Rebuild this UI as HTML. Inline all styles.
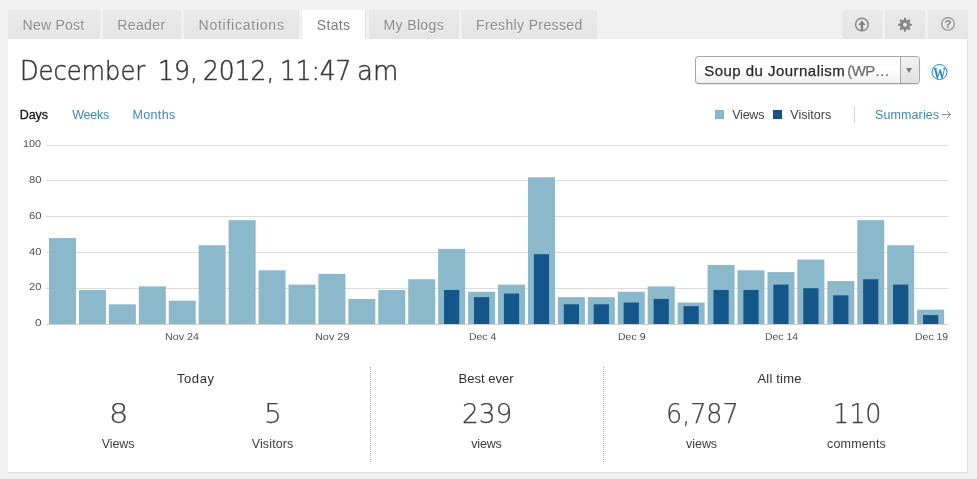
<!DOCTYPE html>
<html lang="en">
<head>
<meta charset="utf-8">
<title>Stats</title>
<style>
html,body{margin:0;padding:0;}
body{width:977px;height:479px;overflow:hidden;background:#f1f1f1;font-family:"Liberation Sans",sans-serif;color:#444;position:relative;}
.abs{position:absolute;white-space:nowrap;}
.x{position:absolute;white-space:nowrap;margin:0;padding:0;}
.tab{position:absolute;top:10px;height:29px;background:linear-gradient(#eaeaea,#e4e4e4);}
.tab.on{background:#fff;}
#panel{position:absolute;left:8px;top:39px;width:959px;height:433px;background:#fff;border-bottom:1px solid #dfdfdf;border-right:1px solid #e2e2e2;}
.sep{position:absolute;top:367px;height:95px;width:0;border-left:1px dotted #a8a8a8;}
</style>
</head>
<body>
<!-- tabs -->
<div class="tab" style="left:8px;width:92px;"></div>
<div class="tab" style="left:103px;width:78px;"></div>
<div class="tab" style="left:184px;width:115px;"></div>
<div class="tab on" style="left:302px;width:63px;border-right:1px solid #e0e0e0;"></div>
<div class="tab" style="left:369px;width:90px;"></div>
<div class="tab" style="left:462px;width:135px;"></div>
<div class="tab" style="left:842px;width:40px;"></div>
<div class="tab" style="left:885px;width:40px;"></div>
<div class="tab" style="left:928px;width:40px;"></div>

<!-- tab icons -->
<svg class="abs" style="left:842px;top:10px;" width="126" height="29" viewBox="842 10 126 29">
  <!-- upload -->
  <circle cx="861.9" cy="24.5" r="6.3" fill="none" stroke="#878787" stroke-width="1.4"/>
  <path d="M861.9 20.3 L865.6 24.9 L863.1 24.9 L863.1 30.2 L860.7 30.2 L860.7 24.9 L858.2 24.9 Z" fill="#858585"/>
  <!-- gear -->
  <path d="M900.55 24.80a4.45 4.45 0 1 0 8.9 0a4.45 4.45 0 1 0 -8.9 0Z M902.95 24.80a2.05 2.05 0 1 1 4.1 0a2.05 2.05 0 1 1 -4.1 0Z" fill="#868686" fill-rule="evenodd"/>
  <path d="M908.90 23.05 L911.95 24.05 L911.95 25.55 L908.90 26.55Z M909.00 26.32 L910.44 29.18 L909.38 30.24 L906.52 28.80Z M906.75 28.70 L905.75 31.75 L904.25 31.75 L903.25 28.70Z M903.48 28.80 L900.62 30.24 L899.56 29.18 L901.00 26.32Z M901.10 26.55 L898.05 25.55 L898.05 24.05 L901.10 23.05Z M901.00 23.28 L899.56 20.42 L900.62 19.36 L903.48 20.80Z M903.25 20.90 L904.25 17.85 L905.75 17.85 L906.75 20.90Z M906.52 20.80 L909.38 19.36 L910.44 20.42 L909.00 23.28Z" fill="#868686"/>
  <!-- help -->
  <circle cx="948" cy="23.9" r="6.35" fill="none" stroke="#8c8c8c" stroke-width="1.2"/>
  <text x="948" y="28" text-anchor="middle" font-family="Liberation Sans, sans-serif" font-size="11.5" font-weight="bold" fill="#858585">?</text>
</svg>

<div id="panel"></div>

<!-- select -->
<div class="abs" style="left:695px;top:56px;width:223px;height:26px;border:1px solid #a8a8a8;border-bottom-color:#9a9a9a;border-radius:4px;background:linear-gradient(#ffffff 45%,#f2f2f2);box-shadow:0 1px 1px rgba(0,0,0,0.08);"></div>
<div class="abs" style="left:900px;top:57px;width:18px;height:26px;border-left:1px solid #a6a6a6;background:linear-gradient(#f3f3f3,#e0e0e0);border-radius:0 3px 3px 0;"></div>
<div class="abs" style="left:905.6px;top:67.9px;width:0;height:0;border-left:3.9px solid transparent;border-right:3.9px solid transparent;border-top:5.5px solid #7d7d7d;"></div>

<!-- wp logo -->
<svg class="abs" style="left:930px;top:62px;" width="20" height="20" viewBox="930 62 20 20">
  <circle cx="939.5" cy="72" r="7.5" fill="#fff" stroke="#2489c2" stroke-width="1"/>
  <text transform="translate(939.6 78.5) scale(0.74 1)" x="0" y="0" text-anchor="middle" font-family="Liberation Serif, serif" font-weight="bold" font-size="17" fill="#2489c2">W</text>
</svg>

<!-- legend -->
<div class="abs" style="left:715px;top:110px;width:7px;height:7px;background:#8cb8cc;border:1px solid #82b1c8;"></div>
<div class="abs" style="left:773px;top:110px;width:7px;height:7px;background:#14568a;border:1px solid #124f80;"></div>
<div class="abs" style="left:854px;top:106px;width:0;height:17px;border-left:1px solid #d6d6d6;"></div>
<svg class="abs" style="left:940px;top:109px;" width="12" height="11" viewBox="0 0 12 11">
  <path d="M1.6 5.5 H10.4 M7 2 L10.6 5.5 L7 9" fill="none" stroke="#8f8f8f" stroke-width="1"/>
</svg>

<!-- chart -->
<svg id="chart" class="abs" style="left:0;top:135px;" width="977" height="215" viewBox="0 135 977 215">
<rect x="46" y="324" width="902" height="1" fill="#cfcfcf"/>
<rect x="46" y="288" width="902" height="1" fill="#dcdcdc"/>
<rect x="46" y="252" width="902" height="1" fill="#dcdcdc"/>
<rect x="46" y="216" width="902" height="1" fill="#dcdcdc"/>
<rect x="46" y="180" width="902" height="1" fill="#dcdcdc"/>
<rect x="46" y="145" width="902" height="1" fill="#dcdcdc"/>
<rect x="49.00" y="238.08" width="27.0" height="85.92" fill="#8cb8cc"/>
<rect x="78.94" y="289.99" width="27.0" height="34.01" fill="#8cb8cc"/>
<rect x="108.87" y="304.31" width="27.0" height="19.69" fill="#8cb8cc"/>
<rect x="138.81" y="286.41" width="27.0" height="37.59" fill="#8cb8cc"/>
<rect x="168.74" y="300.73" width="27.0" height="23.27" fill="#8cb8cc"/>
<rect x="198.67" y="245.24" width="27.0" height="78.76" fill="#8cb8cc"/>
<rect x="228.61" y="220.18" width="27.0" height="103.82" fill="#8cb8cc"/>
<rect x="258.54" y="270.30" width="27.0" height="53.70" fill="#8cb8cc"/>
<rect x="288.48" y="284.62" width="27.0" height="39.38" fill="#8cb8cc"/>
<rect x="318.41" y="273.88" width="27.0" height="50.12" fill="#8cb8cc"/>
<rect x="348.35" y="298.94" width="27.0" height="25.06" fill="#8cb8cc"/>
<rect x="378.28" y="289.99" width="27.0" height="34.01" fill="#8cb8cc"/>
<rect x="408.22" y="279.25" width="27.0" height="44.75" fill="#8cb8cc"/>
<rect x="438.15" y="248.82" width="27.0" height="75.18" fill="#8cb8cc"/>
<rect x="468.09" y="291.78" width="27.0" height="32.22" fill="#8cb8cc"/>
<rect x="498.02" y="284.62" width="27.0" height="39.38" fill="#8cb8cc"/>
<rect x="527.96" y="177.22" width="27.0" height="146.78" fill="#8cb8cc"/>
<rect x="557.89" y="297.15" width="27.0" height="26.85" fill="#8cb8cc"/>
<rect x="587.83" y="297.15" width="27.0" height="26.85" fill="#8cb8cc"/>
<rect x="617.76" y="291.78" width="27.0" height="32.22" fill="#8cb8cc"/>
<rect x="647.70" y="286.41" width="27.0" height="37.59" fill="#8cb8cc"/>
<rect x="677.63" y="302.52" width="27.0" height="21.48" fill="#8cb8cc"/>
<rect x="707.57" y="264.93" width="27.0" height="59.07" fill="#8cb8cc"/>
<rect x="737.50" y="270.30" width="27.0" height="53.70" fill="#8cb8cc"/>
<rect x="767.44" y="272.09" width="27.0" height="51.91" fill="#8cb8cc"/>
<rect x="797.38" y="259.56" width="27.0" height="64.44" fill="#8cb8cc"/>
<rect x="827.31" y="281.04" width="27.0" height="42.96" fill="#8cb8cc"/>
<rect x="857.25" y="220.18" width="27.0" height="103.82" fill="#8cb8cc"/>
<rect x="887.18" y="245.24" width="27.0" height="78.76" fill="#8cb8cc"/>
<rect x="917.12" y="309.68" width="27.0" height="14.32" fill="#8cb8cc"/>
<rect x="444.05" y="289.99" width="15.2" height="34.01" fill="#14568a"/>
<rect x="473.99" y="297.15" width="15.2" height="26.85" fill="#14568a"/>
<rect x="503.92" y="293.57" width="15.2" height="30.43" fill="#14568a"/>
<rect x="533.86" y="254.19" width="15.2" height="69.81" fill="#14568a"/>
<rect x="563.79" y="304.31" width="15.2" height="19.69" fill="#14568a"/>
<rect x="593.73" y="304.31" width="15.2" height="19.69" fill="#14568a"/>
<rect x="623.66" y="302.52" width="15.2" height="21.48" fill="#14568a"/>
<rect x="653.60" y="298.94" width="15.2" height="25.06" fill="#14568a"/>
<rect x="683.53" y="306.10" width="15.2" height="17.90" fill="#14568a"/>
<rect x="713.47" y="289.99" width="15.2" height="34.01" fill="#14568a"/>
<rect x="743.40" y="289.99" width="15.2" height="34.01" fill="#14568a"/>
<rect x="773.34" y="284.62" width="15.2" height="39.38" fill="#14568a"/>
<rect x="803.27" y="288.20" width="15.2" height="35.80" fill="#14568a"/>
<rect x="833.21" y="295.36" width="15.2" height="28.64" fill="#14568a"/>
<rect x="863.14" y="279.25" width="15.2" height="44.75" fill="#14568a"/>
<rect x="893.08" y="284.62" width="15.2" height="39.38" fill="#14568a"/>
<rect x="923.01" y="315.05" width="15.2" height="8.95" fill="#14568a"/>
</svg>

<!-- bottom stats -->
<div class="sep" style="left:370px;"></div>
<div class="sep" style="left:603px;"></div>

<div class="x" id="t1" style="left:22.55px;top:18.00px;font-size:14px;line-height:14px;color:#8a8a8a;letter-spacing:0.257px;text-shadow:0 1px 0 #fff;">New Post</div>
<div class="x" id="t2" style="left:117.20px;top:18.00px;font-size:14px;line-height:14px;color:#8a8a8a;letter-spacing:0.396px;text-shadow:0 1px 0 #fff;">Reader</div>
<div class="x" id="t3" style="left:198.55px;top:18.00px;font-size:14px;line-height:14px;color:#8a8a8a;letter-spacing:0.757px;text-shadow:0 1px 0 #fff;">Notifications</div>
<div class="x" id="t4" style="left:316.75px;top:18.00px;font-size:14px;line-height:14px;color:#7b7b7b;letter-spacing:0.338px;">Stats</div>
<div class="x" id="t5" style="left:383.60px;top:18.00px;font-size:14px;line-height:14px;color:#8a8a8a;letter-spacing:0.354px;text-shadow:0 1px 0 #fff;">My Blogs</div>
<div class="x" id="t6" style="left:476.00px;top:18.00px;font-size:14px;line-height:14px;color:#8a8a8a;letter-spacing:0.360px;text-shadow:0 1px 0 #fff;">Freshly Pressed</div>
<div class="x" id="ti1" style="left:19.50px;top:57.00px;font-size:27.4px;line-height:27.4px;color:#383838;transform:scaleX(0.8811);transform-origin:0 0;font-family:'DejaVu Sans Light','DejaVu Sans','Liberation Sans',sans-serif;font-weight:200;-webkit-text-stroke:0.5px #383838;">December</div>
<div class="x" id="ti2" style="left:157.60px;top:57.00px;font-size:27.4px;line-height:27.4px;color:#383838;transform:scaleX(0.9173);transform-origin:0 0;font-family:'DejaVu Sans Light','DejaVu Sans','Liberation Sans',sans-serif;font-weight:200;-webkit-text-stroke:0.5px #383838;">19,</div>
<div class="x" id="ti3" style="left:202.95px;top:57.00px;font-size:27.4px;line-height:27.4px;color:#383838;transform:scaleX(0.9106);transform-origin:0 0;font-family:'DejaVu Sans Light','DejaVu Sans','Liberation Sans',sans-serif;font-weight:200;-webkit-text-stroke:0.5px #383838;">2012,</div>
<div class="x" id="ti4" style="left:279.60px;top:57.00px;font-size:27.4px;line-height:27.4px;color:#383838;transform:scaleX(0.9034);transform-origin:0 0;font-family:'DejaVu Sans Light','DejaVu Sans','Liberation Sans',sans-serif;font-weight:200;-webkit-text-stroke:0.5px #383838;">11:47</div>
<div class="x" id="ti5" style="left:357.15px;top:57.00px;font-size:27.4px;line-height:27.4px;color:#383838;transform:scaleX(0.9497);transform-origin:0 0;font-family:'DejaVu Sans Light','DejaVu Sans','Liberation Sans',sans-serif;font-weight:200;-webkit-text-stroke:0.5px #383838;">am</div>
<div class="x" id="sel1" style="left:704.30px;top:63.00px;font-size:15px;line-height:15px;color:#2a2a2a;letter-spacing:0.461px;-webkit-text-stroke:0.25px #2a2a2a;">Soup du Journalism</div>
<div class="x" id="sel2" style="left:847.25px;top:63.00px;font-size:15px;line-height:15px;color:#6a6a6a;letter-spacing:-0.570px;-webkit-text-stroke:0.2px #6a6a6a;">(WP…</div>
<div class="x" id="days" style="left:19.80px;top:109.00px;font-size:12.5px;line-height:12.5px;color:#161616;letter-spacing:-0.090px;-webkit-text-stroke:0.3px #161616;">Days</div>
<div class="x" id="weeks" style="left:72.20px;top:109.00px;font-size:12.5px;line-height:12.5px;color:#3d88bd;letter-spacing:-0.225px;">Weeks</div>
<div class="x" id="months" style="left:132.55px;top:109.00px;font-size:12.5px;line-height:12.5px;color:#3d88bd;letter-spacing:0.333px;">Months</div>
<div class="x" id="lviews" style="left:732.25px;top:109.00px;font-size:12.5px;line-height:12.5px;color:#3f3f3f;letter-spacing:-0.248px;">Views</div>
<div class="x" id="lvisitors" style="left:790.25px;top:109.00px;font-size:12.5px;line-height:12.5px;color:#3f3f3f;letter-spacing:0.039px;">Visitors</div>
<div class="x" id="summ" style="left:875.05px;top:109.00px;font-size:12.5px;line-height:12.5px;color:#3d88bd;letter-spacing:0.101px;">Summaries</div>
<div class="x" id="today" style="left:176.90px;top:372.00px;font-size:13px;line-height:13px;color:#2f2f2f;letter-spacing:0.596px;">Today</div>
<div class="x" id="best" style="left:458.55px;top:372.00px;font-size:13px;line-height:13px;color:#2f2f2f;letter-spacing:-0.000px;">Best ever</div>
<div class="x" id="allt" style="left:757.50px;top:372.00px;font-size:13px;line-height:13px;color:#2f2f2f;letter-spacing:0.186px;">All time</div>
<div class="x" id="n8" style="left:109.00px;top:400.00px;font-size:27.4px;line-height:27.4px;color:#424242;transform:scaleX(1.1101);transform-origin:0 0;font-family:'DejaVu Sans Light','DejaVu Sans','Liberation Sans',sans-serif;font-weight:200;-webkit-text-stroke:0.25px #424242;">8</div>
<div class="x" id="n5" style="left:264.20px;top:400.00px;font-size:27.4px;line-height:27.4px;color:#424242;transform:scaleX(1.0264);transform-origin:0 0;font-family:'DejaVu Sans Light','DejaVu Sans','Liberation Sans',sans-serif;font-weight:200;-webkit-text-stroke:0.25px #424242;">5</div>
<div class="x" id="n239" style="left:462.00px;top:400.00px;font-size:27.4px;line-height:27.4px;color:#424242;transform:scaleX(0.9647);transform-origin:0 0;font-family:'DejaVu Sans Light','DejaVu Sans','Liberation Sans',sans-serif;font-weight:200;-webkit-text-stroke:0.25px #424242;">239</div>
<div class="x" id="n6787" style="left:665.85px;top:400.00px;font-size:27.4px;line-height:27.4px;color:#424242;transform:scaleX(0.9265);transform-origin:0 0;font-family:'DejaVu Sans Light','DejaVu Sans','Liberation Sans',sans-serif;font-weight:200;-webkit-text-stroke:0.25px #424242;">6,787</div>
<div class="x" id="n110" style="left:833.40px;top:400.00px;font-size:27.4px;line-height:27.4px;color:#424242;transform:scaleX(0.9270);transform-origin:0 0;font-family:'DejaVu Sans Light','DejaVu Sans','Liberation Sans',sans-serif;font-weight:200;-webkit-text-stroke:0.25px #424242;">110</div>
<div class="x" id="bviews" style="left:101.70px;top:438.00px;font-size:12.5px;line-height:12.5px;color:#3c3c3c;letter-spacing:-0.079px;">Views</div>
<div class="x" id="bvisitors" style="left:251.75px;top:438.00px;font-size:12.5px;line-height:12.5px;color:#3c3c3c;letter-spacing:0.116px;">Visitors</div>
<div class="x" id="bviews2" style="left:471.20px;top:438.00px;font-size:12.5px;line-height:12.5px;color:#3c3c3c;letter-spacing:-0.157px;">views</div>
<div class="x" id="bviews3" style="left:686.05px;top:438.00px;font-size:12.5px;line-height:12.5px;color:#3c3c3c;letter-spacing:-0.045px;">views</div>
<div class="x" id="bcomm" style="left:827.10px;top:438.00px;font-size:12.5px;line-height:12.5px;color:#3c3c3c;letter-spacing:0.154px;">comments</div>
<div class="x" id="y0" style="left:34.95px;top:319.00px;font-size:10px;line-height:10px;color:#505050;transform:scaleX(1.1789);transform-origin:0 0;text-rendering:geometricPrecision;">0</div>
<div class="x" id="y20" style="left:28.95px;top:283.00px;font-size:10px;line-height:10px;color:#505050;transform:scaleX(1.1122);transform-origin:0 0;text-rendering:geometricPrecision;">20</div>
<div class="x" id="y40" style="left:29.05px;top:248.00px;font-size:10px;line-height:10px;color:#505050;transform:scaleX(1.1143);transform-origin:0 0;text-rendering:geometricPrecision;">40</div>
<div class="x" id="y60" style="left:28.75px;top:212.00px;font-size:10px;line-height:10px;color:#505050;transform:scaleX(1.1317);transform-origin:0 0;text-rendering:geometricPrecision;">60</div>
<div class="x" id="y80" style="left:29.00px;top:176.00px;font-size:10px;line-height:10px;color:#505050;transform:scaleX(1.1317);transform-origin:0 0;text-rendering:geometricPrecision;">80</div>
<div class="x" id="y100" style="left:23.20px;top:140.00px;font-size:10px;line-height:10px;color:#505050;transform:scaleX(1.0818);transform-origin:0 0;text-rendering:geometricPrecision;">100</div>
<div class="x" id="x4" style="left:165.17px;top:333.00px;font-size:10px;line-height:10px;color:#505050;transform:scaleX(1.0689);transform-origin:0 0;text-rendering:geometricPrecision;">Nov 24</div>
<div class="x" id="x9" style="left:314.94px;top:333.00px;font-size:10px;line-height:10px;color:#505050;transform:scaleX(1.0869);transform-origin:0 0;text-rendering:geometricPrecision;">Nov 29</div>
<div class="x" id="x14" style="left:468.82px;top:333.00px;font-size:10px;line-height:10px;color:#505050;transform:scaleX(1.0416);transform-origin:0 0;text-rendering:geometricPrecision;">Dec 4</div>
<div class="x" id="x19" style="left:617.74px;top:333.00px;font-size:10px;line-height:10px;color:#505050;transform:scaleX(1.0520);transform-origin:0 0;text-rendering:geometricPrecision;">Dec 9</div>
<div class="x" id="x24" style="left:765.12px;top:333.00px;font-size:10px;line-height:10px;color:#505050;transform:scaleX(1.0443);transform-origin:0 0;text-rendering:geometricPrecision;">Dec 14</div>
<div class="x" id="x29" style="left:915.15px;top:333.00px;font-size:10px;line-height:10px;color:#505050;transform:scaleX(1.0464);transform-origin:0 0;text-rendering:geometricPrecision;">Dec 19</div>
</body>
</html>
